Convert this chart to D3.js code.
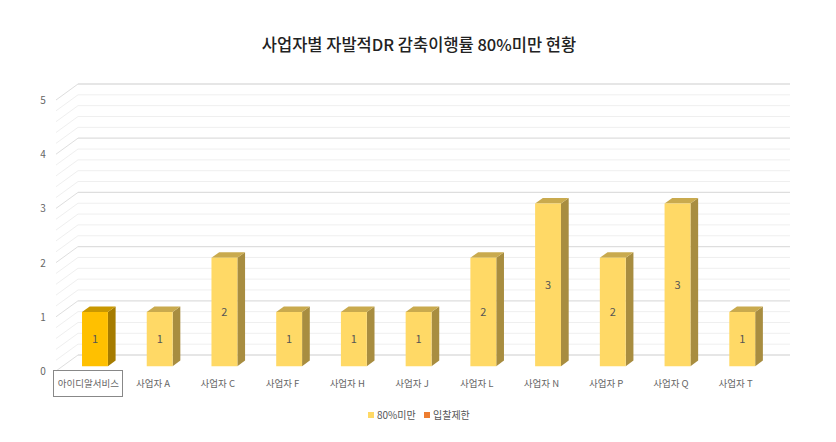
<!DOCTYPE html>
<html>
<head>
<meta charset="utf-8">
<script src="https://cdn.jsdelivr.net/npm/d3@7.9.0/dist/d3.min.js"></script>
<style>
  body { margin: 0; background: #fff; }
  svg { display: block; font-family: "Noto Sans CJK KR", "Noto Sans", sans-serif; }
</style>
</head>
<body>
<div id="chart"></div>
<script>
const categories = ['아이디알서비스', '사업자 A', '사업자 C', '사업자 F', '사업자 H', '사업자 J',
  '사업자 L', '사업자 N', '사업자 P', '사업자 Q', '사업자 T'];
const values = [1, 1, 2, 1, 1, 1, 2, 3, 2, 3, 1];
const yTicks = [0, 1, 2, 3, 4, 5];
const legendItems = ['80%미만', '입찰제한'];
const highlighted = '아이디알서비스';

const width = 836, height = 442;
const depth = { dx: 22, dy: -16 };   // offset of the back wall
const barZ = [0.3, 0.65];            // bar depth range

const svg = d3.select('#chart').append('svg')
  .attr('width', width).attr('height', height);

const x = d3.scaleBand().domain(categories).range([56, 768]).paddingInner(0.6).paddingOuter(0.3);
const xc = d3.scaleBand().domain(categories).range([56, 768]);
const y = d3.scaleLinear().domain([0, 5]).range([371, 100]);

const proj = (px, py, z) => [px + depth.dx * z, py + depth.dy * z];

// title
svg.append('text')
  .attr('x', 419).attr('y', 51)
  .attr('text-anchor', 'middle')
  .attr('font-size', 16.5).attr('font-weight', 500).attr('fill', '#222')
  .text('사업자별 자발적DR 감축이행률 80%미만 현황');

// grid: side diagonal + back wall lines every 0.2
const gridVals = d3.range(0, 5.0001, 0.2);
const grid = svg.append('g');
gridVals.forEach(v => {
  const major = Math.abs(v - Math.round(v)) < 1e-6;
  const col = major ? '#dedede' : '#efefef';
  const [bx, by] = proj(56, y(v), 1);
  grid.append('line')
    .attr('x1', 56).attr('y1', y(v)).attr('x2', bx).attr('y2', by)
    .attr('stroke', col).attr('stroke-width', 1);
  grid.append('line')
    .attr('x1', bx).attr('y1', by).attr('x2', 790).attr('y2', by)
    .attr('stroke', col).attr('stroke-width', major ? 1.3 : 1);
});

// y labels
svg.append('g').selectAll('text')
  .data(yTicks).join('text')
  .attr('x', 43).attr('y', d => y(d) + 4)
  .attr('text-anchor', 'middle')
  .attr('font-size', 10).attr('fill', '#666')
  .text(d => d);

// bars
const bars = svg.append('g').selectAll('g')
  .data(categories.map((c, i) => ({ c, v: values[i] })))
  .join('g');

bars.each(function (d) {
  const g = d3.select(this);
  const hl = d.c === highlighted;
  const front = hl ? '#ffc000' : '#ffd966';
  const side = hl ? '#a67c00' : '#a88d40';
  const top = hl ? '#c99800' : '#c9aa4e';
  const x0 = x(d.c), x1 = x(d.c) + x.bandwidth();
  const yb = y(0), yt = y(d.v);
  const F = (px, py) => proj(px, py, barZ[0]);
  const B = (px, py) => proj(px, py, barZ[1]);
  const poly = pts => pts.map(p => p.join(',')).join(' ');
  // side
  g.append('polygon').attr('fill', side)
    .attr('points', poly([F(x1, yt), B(x1, yt), B(x1, yb), F(x1, yb)]));
  // top
  g.append('polygon').attr('fill', top)
    .attr('points', poly([F(x0, yt), B(x0, yt), B(x1, yt), F(x1, yt)]));
  // front
  g.append('polygon').attr('fill', front)
    .attr('points', poly([F(x0, yt), F(x1, yt), F(x1, yb), F(x0, yb)]));
  const [cx, cy] = F((x0 + x1) / 2, (yt + yb) / 2);
  g.append('text')
    .attr('x', cx).attr('y', cy + 4)
    .attr('text-anchor', 'middle')
    .attr('font-size', 11).attr('fill', '#555')
    .text(d.v);
});

// category labels
const labels = svg.append('g');
labels.selectAll('text')
  .data(categories).join('text')
  .attr('x', d => xc(d) + xc.bandwidth() / 2)
  .attr('y', 387)
  .attr('text-anchor', 'middle')
  .attr('font-size', 9.5).attr('fill', '#666')
  .text(d => d);
labels.append('rect')
  .attr('x', 53.5).attr('y', 370.5).attr('width', 69).attr('height', 26)
  .attr('fill', 'none').attr('stroke', '#888');

// legend
const legColors = ['#ffd966', '#ed7d31'];
const legX = [368, 424];
const leg = svg.append('g');
legendItems.forEach((t, i) => {
  leg.append('rect')
    .attr('x', legX[i]).attr('y', 412).attr('width', 6).attr('height', 6)
    .attr('fill', legColors[i]);
  leg.append('text')
    .attr('x', legX[i] + 9).attr('y', 419)
    .attr('font-size', 10).attr('fill', '#555')
    .text(t);
});
</script>
</body>
</html>
